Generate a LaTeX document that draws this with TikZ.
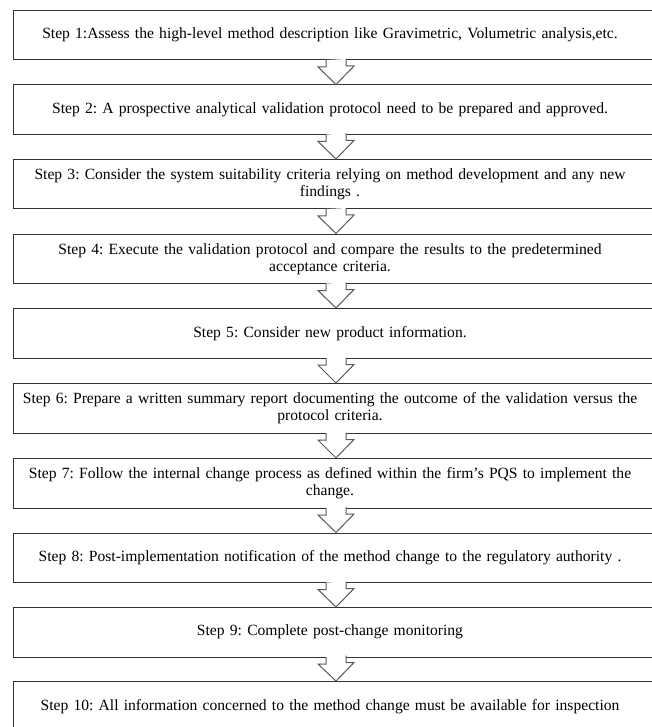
\documentclass[tikz,border=0pt]{standalone}
\usepackage{fontspec}
\setmainfont{Liberation Serif}
\usetikzlibrary{calc}
\begin{document}
\begin{tikzpicture}[x=1pt,y=-1pt,
  stepbox/.style={draw=black!80, line width=1pt, fill=white, anchor=north west,
    minimum width=645pt, minimum height=49.5pt, inner sep=0pt},
  steptext/.style={font=\fontsize{15.6pt}{17pt}\selectfont\frenchspacing, align=center, text width=630pt, inner sep=0pt},
  blockarrow/.style={draw=black!65, line width=1pt, fill=white}]
\useasboundingbox (0,0) rectangle (652,727);
\clip (0,0) rectangle (652,727);
\node[stepbox] (s1) at (13,10) {};
\node[stepbox] (s2) at (13,84.5) {};
\node[stepbox] (s3) at (13,159) {};
\node[stepbox] (s4) at (13,233.5) {};
\node[stepbox] (s5) at (13,308) {};
\node[stepbox] (s6) at (13,383) {};
\node[stepbox] (s7) at (13,458) {};
\node[stepbox] (s8) at (13,532.5) {};
\node[stepbox] (s9) at (13,607) {};
\node[stepbox] (s10) at (13,681) {};
\node[steptext] (t1) at ($(s1.center)+(-6,0)$) {Step 1:Assess the high-level method description like Gravimetric, Volumetric analysis,etc.};
\node[steptext] (t2) at ($(s2.center)+(-6,0)$) {Step 2: A prospective analytical validation protocol need to be prepared and approved.};
\node[steptext] (t3) at ($(s3.center)+(-6,0)$) {Step 3: Consider the system suitability criteria relying on method development and any new\\findings .};
\node[steptext] (t4) at ($(s4.center)+(-6,0)$) {Step 4: Execute the validation protocol and compare the results to the predetermined\\acceptance criteria.};
\node[steptext] (t5) at ($(s5.center)+(-6,0)$) {Step 5: Consider new product information.};
\node[steptext] (t6) at ($(s6.center)+(-6,0)$) {Step 6: Prepare a written summary report documenting the outcome of the validation versus the\\protocol criteria.};
\node[steptext] (t7) at ($(s7.center)+(-6,0)$) {Step 7: Follow the internal change process as defined within the firm’s PQS to implement the\\change.};
\node[steptext] (t8) at ($(s8.center)+(-6,0)$) {Step 8: Post-implementation notification of the method change to the regulatory authority .};
\node[steptext] (t9) at ($(s9.center)+(-6,0)$) {Step 9: Complete post-change monitoring};
\node[steptext] (t10) at ($(s10.center)+(-6,0)$) {Step 10: All information concerned to the method change must be available for inspection};
\foreach \i/\j in {1/2,2/3,3/4,4/5,5/6,6/7,7/8,8/9,9/10}{
  \draw[blockarrow] (s\i.south) ++(-10,-0.5) -- ++(0,7) -- ++(-8,0) -- (s\j.north) -- ++(18,-18.5) -- ++(-8,0) -- ++(0,-7);
}
\end{tikzpicture}
\end{document}
